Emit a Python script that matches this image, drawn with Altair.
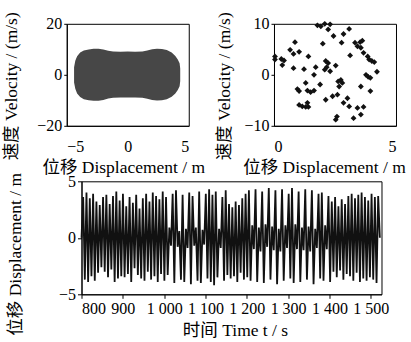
import altair as alt
import pandas as pd

FONT = "Liberation Serif, Noto Sans CJK SC"

# --- top-left: phase portrait envelope (filled region) ---
blob_x = [-4.4, -4.3, -4.15, -3.9, -3.6, -3.2, -2.8, -2.4, -2.0, -1.6, -1.2, -0.6, 0.0,
          0.6, 1.2, 1.6, 2.0, 2.4, 2.8, 3.2, 3.6, 3.9, 4.1, 4.25, 4.3]
blob_v_top = [3.0, 5.5, 7.3, 8.7, 9.5, 9.9, 10.2, 10.2, 9.9, 9.4, 9.1, 9.0, 9.1,
              9.0, 9.1, 9.5, 10.0, 10.2, 10.1, 9.7, 8.7, 7.4, 6.0, 4.5, 2.5]
blob_v_bot = [-3.0, -5.5, -7.3, -8.7, -9.6, -10.0, -10.2, -10.2, -9.9, -9.3, -9.0, -8.9, -8.9,
              -8.9, -9.0, -9.4, -9.9, -10.1, -10.0, -9.6, -8.6, -7.3, -6.0, -4.5, -2.5]

# --- top-right: Poincaré-type scatter ---
sc_x = [0.04, 0.04, 0.3, 0.41, 0.34, 0.66, 0.8, 0.86, 1.03, 0.8, 1.23, 1.41, 0.96, 1.03, 1.3,
        1.37, 1.5, 1.64, 1.03, 1.16, 1.3, 1.41, 1.37, 1.64, 1.89, 1.71, 1.78, 1.92, 2.08, 2.3,
        2.22, 2.44, 2.0, 2.12, 2.22, 2.16, 2.08, 2.3, 2.53, 2.12, 2.4, 2.6, 2.67, 2.63, 2.74,
        2.8, 2.85, 2.58, 2.53, 2.85, 3.08, 2.77, 3.12, 3.08, 3.26, 3.42, 3.56, 3.67, 3.32, 3.42,
        3.53, 3.56, 3.62, 3.67, 3.84, 3.9, 4.01, 4.11, 4.22, 3.77, 3.86, 3.95, 3.56, 3.95, 3.01]
sc_v = [3.6, 3.0, 3.1, 2.8, 1.9, 4.9, 4.1, 6.4, 4.5, 1.3, 1.1, 3.6, -2.8, -3.2, -1.6,
        -3.1, -3.4, -3.1, -5.9, -6.2, -6.3, -6.3, -5.5, 0.0, -1.9, 1.5, 9.7, 9.5, 10.0, 9.9,
        8.9, 7.6, 6.1, 2.7, 2.3, 1.5, 1.0, 0.7, 1.8, -4.9, -4.2, -3.9, -2.3, -1.3, -1.0,
        -1.6, -5.5, -8.2, -8.8, 8.0, 9.0, 6.3, 3.8, -6.2, -8.5, -6.5, -7.8, -6.3, 6.3, 5.6,
        6.4, 5.3, 6.7, 4.3, 3.6, 3.0, 2.7, 2.5, 0.6, 0.0, -0.4, -0.6, -2.3, -3.2, -4.6]

# --- bottom: displacement time history (successive turning points) ---
t_start, t_end = 800.0, 1522.0
disp_turns = [
    0.0, 3.6, -3.7, 4.0, -3.9, 3.5, -3.4, 3.9, -3.8, 3.2, -3.1, 2.9, -2.6, 3.6, -3.0, 3.8, -3.5,
    3.0, -2.8, 3.7, -3.9, 4.1, -3.6, 3.3, -3.4,
    3.9, -3.5, 2.8, -3.2, 3.6, -3.9, 3.1, -2.7, 3.8, -3.3, 2.6, -3.6, 3.5, -3.8, 3.9, -3.0,
    3.2, -3.7, 4.0, -3.4, 3.7, -3.9, 3.4, -3.2,
    4.1, -3.8, 3.6, -3.3, 0.9, -0.7, 3.9, -4.0, 4.2, -0.8, 0.6, -3.7, 3.8, -3.9, 0.8, -0.9,
    4.0, -4.1, 3.7, -0.7, 0.9, -3.8, 4.1, -4.0, 0.7, -0.6, 3.9, -3.6,
    4.3, -3.9, 3.8, -4.2, 4.1, -3.5, 0.8, -0.9, 3.6, -3.8, 4.2, -3.3, 3.0, -3.6, 2.7, -3.4,
    3.2, -3.9, 2.9, -3.1, 3.5, -3.7, 3.9, -3.5,
    4.2, -3.8, 1.1, -1.0, 4.3, -3.9, 0.9, -1.2, 4.1, -4.0, 1.2, -0.8, 4.4, -3.7, 1.0, -1.1,
    4.2, -4.1, 0.8, -1.2, 4.3, -3.8, 1.1, -0.9, 3.9, -3.6,
    4.4, -4.0, 1.2, -1.0, 4.1, -3.9, 0.9, -1.1, 4.3, -3.7, 1.0, -1.2, 4.2, -4.1, 0.8, -0.9,
    3.9, -3.6, 4.0, -3.8, 1.1, -1.0, 3.7, -3.9,
    3.2, -3.0, 3.6, -3.5, 2.8, -2.9, 3.4, -3.7, 3.0, -3.2, 3.7, -3.4, 3.9, -3.8, 3.5, -3.1,
    3.8, -3.9, 4.0, -3.6, 3.6, -3.8, 3.3, -3.5,
    3.9, -3.7, 3.6, -4.0, 3.7, 0.0,
]
n = len(disp_turns)
dt = (t_end - t_start) / (n - 1)
times = [t_start + i * dt for i in range(n)]

blob_df = pd.DataFrame({"x": blob_x, "top": blob_v_top, "bot": blob_v_bot})
sc_df = pd.DataFrame({"x": sc_x, "v": sc_v})
ts_df = pd.DataFrame({"t": times, "d": disp_turns})

lab = dict(labelFont=FONT, labelFontSize=16, labelColor="black", titleFont=FONT,
           titleFontSize=17.5, titleFontWeight="normal", titleColor="black",
           domainColor="black", tickColor="black", grid=False)

xl = dict(tickSize=0, labelPadding=13, titleBaseline="middle", titleY=41.5, **lab)
yl = dict(tickSize=3, labelPadding=2, titleAngle=270, titleBaseline="middle", titleY=62, **lab)

tl = alt.Chart(blob_df).mark_area(color="#474747").encode(
    x=alt.X("x:Q", scale=alt.Scale(domain=[-5, 5], nice=False),
            axis=alt.Axis(values=[-5, 0, 5], title="位移  Displacement / m", titleX=56.5, **xl)),
    y=alt.Y("top:Q", scale=alt.Scale(domain=[-20, 20], nice=False),
            axis=alt.Axis(values=[-20, 0, 20], title="速度  Velocity / (m/s)", titleX=-55.5, **yl)),
    y2="bot:Q",
).properties(width=122, height=102)

tr = alt.Chart(sc_df).mark_point(shape="diamond", filled=True, size=34, color="#111111", opacity=1).encode(
    x=alt.X("x:Q", scale=alt.Scale(domain=[0, 5], nice=False),
            axis=alt.Axis(values=[0, 5], title="位移  Displacement / m", titleX=50, **xl)),
    y=alt.Y("v:Q", scale=alt.Scale(domain=[-10, 10], nice=False),
            axis=alt.Axis(values=[-10, 0, 10], title="速度  Velocity / (m/s)", titleX=-49, **yl)),
).properties(width=122, height=102)

bt = alt.Chart(ts_df).mark_line(color="#111111", strokeWidth=1.8).encode(
    x=alt.X("t:Q", scale=alt.Scale(domain=[800, 1526], nice=False),
            axis=alt.Axis(values=[800, 900, 1000, 1100, 1200, 1300, 1400, 1500],
                          labelExpr="datum.value >= 1000 ? '1 ' + format(datum.value - 1000, '03d') : format(datum.value, 'd')",
                          title="时间  Time t / s", tickSize=4, labelPadding=2,
                          titleBaseline="middle", titleX=153.5, titleY=36, **lab)),
    y=alt.Y("d:Q", scale=alt.Scale(domain=[-5, 5], nice=False),
            axis=alt.Axis(values=[-5, 0, 5], title="位移  Displacement / m", tickSize=4, labelPadding=2,
                          titleAngle=270, titleBaseline="middle", titleX=-66, titleY=72.5, **lab)),
    order="t:Q",
).properties(width=300, height=113)

# invisible layout helper so the lower panel starts 10.5 px right of the upper-left one
spacer = alt.Chart(pd.DataFrame({"s": [0]})).mark_point(opacity=0).encode(
    x=alt.X("s:Q", axis=None), y=alt.Y("s:Q", axis=None)
).properties(width=1, height=100, view=alt.ViewBackground(stroke="transparent"))

top = alt.hconcat(tl, tr, spacing=7.25)
bottom = alt.hconcat(spacer, bt, spacing=-65.25)

chart = alt.vconcat(top, bottom, spacing=-7.5).properties(
    padding={"left": 1.75, "top": 8.8, "right": 0, "bottom": 0},
    background="white",
).configure_view(stroke="black", strokeWidth=1)

chart.save("out.html", embed_options={"renderer": "svg", "actions": False})
